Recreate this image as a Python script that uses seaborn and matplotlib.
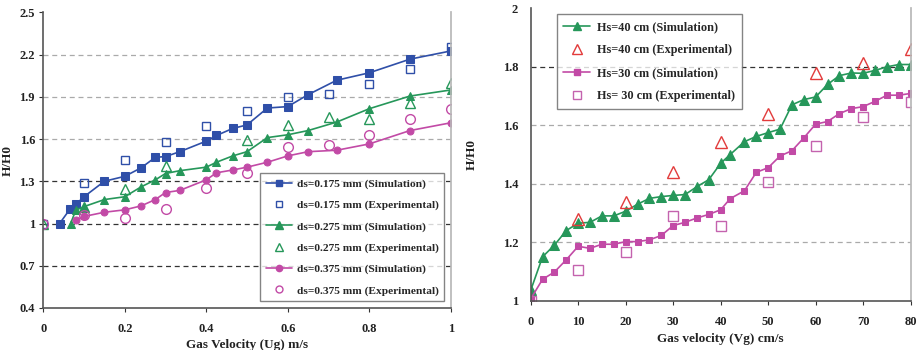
import matplotlib
matplotlib.use("Agg")
import matplotlib.pyplot as plt
import seaborn as sns
import pandas as pd
from matplotlib.lines import Line2D

# ---------------- Left panel data ----------------
ug_sim_175 = [0.04, 0.065, 0.08, 0.10, 0.15, 0.20, 0.24, 0.275, 0.30, 0.335, 0.40, 0.425, 0.465, 0.50, 0.55, 0.60, 0.65, 0.72, 0.80, 0.90, 1.00]
h_sim_175 = [1.00, 1.10, 1.137, 1.19, 1.30, 1.335, 1.395, 1.47, 1.475, 1.51, 1.585, 1.625, 1.675, 1.70, 1.82, 1.83, 1.915, 2.017, 2.07, 2.167, 2.225]
ug_exp_175 = [0.0, 0.1, 0.2, 0.3, 0.4, 0.5, 0.6, 0.7, 0.8, 0.9, 1.0]
h_exp_175 = [1.00, 1.29, 1.45, 1.58, 1.69, 1.80, 1.90, 1.92, 1.99, 2.10, 2.255]

ug_sim_275 = [0.067, 0.08, 0.10, 0.15, 0.20, 0.24, 0.275, 0.30, 0.335, 0.40, 0.425, 0.465, 0.50, 0.55, 0.60, 0.65, 0.72, 0.80, 0.90, 1.00]
h_sim_275 = [1.00, 1.095, 1.12, 1.17, 1.19, 1.26, 1.31, 1.355, 1.375, 1.40, 1.435, 1.48, 1.51, 1.61, 1.63, 1.66, 1.72, 1.815, 1.905, 1.948]
ug_exp_275 = [0.0, 0.1, 0.2, 0.3, 0.5, 0.6, 0.7, 0.8, 0.9, 1.0]
h_exp_275 = [1.00, 1.115, 1.245, 1.41, 1.59, 1.70, 1.755, 1.74, 1.855, 2.00]

ug_sim_375 = [0.08, 0.10, 0.15, 0.20, 0.24, 0.275, 0.30, 0.335, 0.40, 0.425, 0.465, 0.50, 0.55, 0.60, 0.65, 0.72, 0.80, 0.90, 1.00]
h_sim_375 = [1.023, 1.05, 1.08, 1.097, 1.125, 1.17, 1.22, 1.235, 1.31, 1.36, 1.38, 1.40, 1.435, 1.48, 1.51, 1.52, 1.565, 1.66, 1.715]
ug_exp_375 = [0.0, 0.1, 0.2, 0.3, 0.4, 0.5, 0.6, 0.7, 0.8, 0.9, 1.0]
h_exp_375 = [1.00, 1.06, 1.04, 1.105, 1.25, 1.36, 1.54, 1.56, 1.63, 1.74, 1.81]

left_labels = ["ds=0.175 mm (Simulation)", "ds=0.175 mm (Experimental)",
               "ds=0.275 mm (Simulation)", "ds=0.275 mm (Experimental)",
               "ds=0.375 mm (Simulation)", "ds=0.375 mm (Experimental)"]
left_yticks = [0.4, 0.7, 1.0, 1.3, 1.6, 1.9, 2.2, 2.5]
left_ytick_labels = ["0.4", "0.7", "1", "1.3", "1.6", "1.9", "2.2", "2.5"]
left_xticks = [0, 0.2, 0.4, 0.6, 0.8, 1.0]
left_xtick_labels = ["0", "0.2", "0.4", "0.6", "0.8", "1"]

# ---------------- Right panel data ----------------
vg_sim = [0, 2.5, 5, 7.5, 10, 12.5, 15, 17.5, 20, 22.5, 25, 27.5, 30, 32.5, 35, 37.5, 40, 42, 45, 47.5, 50, 52.5, 55, 57.5, 60, 62.5, 65, 67.5, 70, 72.5, 75, 77.5, 80]
h_sim_40 = [1.035, 1.15, 1.19, 1.24, 1.265, 1.268, 1.29, 1.29, 1.306, 1.33, 1.35, 1.356, 1.36, 1.363, 1.39, 1.414, 1.47, 1.50, 1.544, 1.562, 1.575, 1.587, 1.67, 1.688, 1.697, 1.74, 1.77, 1.779, 1.778, 1.788, 1.80, 1.808, 1.808]
h_sim_30 = [1.006, 1.073, 1.098, 1.14, 1.186, 1.179, 1.193, 1.193, 1.202, 1.202, 1.208, 1.223, 1.257, 1.268, 1.283, 1.295, 1.311, 1.349, 1.376, 1.439, 1.455, 1.495, 1.513, 1.557, 1.604, 1.613, 1.64, 1.657, 1.664, 1.682, 1.703, 1.703, 1.709]
vg_exp = [0, 10, 20, 30, 40, 50, 60, 70, 80]
h_exp_40 = [1.00, 1.28, 1.339, 1.44, 1.543, 1.64, 1.778, 1.814, 1.861]
h_exp_30 = [1.00, 1.104, 1.168, 1.289, 1.255, 1.405, 1.529, 1.628, 1.680]

right_labels = ["Hs=40 cm (Simulation)", "Hs=40 cm (Experimental)",
                "Hs=30 cm (Simulation)", "Hs= 30 cm (Experimental)"]
right_yticks = [1.0, 1.2, 1.4, 1.6, 1.8, 2.0]
right_ytick_labels = ["1", "1.2", "1.4", "1.6", "1.8", "2"]
right_xticks = [0, 10, 20, 30, 40, 50, 60, 70, 80]

# ---------------- Styling ----------------
sns.set_theme(style="white")
plt.rcParams['font.family'] = ['Liberation Serif', 'DejaVu Serif']
plt.rcParams['font.weight'] = 'bold'

BLUE = "#2F4FA8"
GREEN = "#26975A"
PINK = "#C24AA6"
RED = "#E23B3B"
PINK2 = "#C463AE"

fig = plt.figure(figsize=(9.21, 3.5), dpi=100)
ax1 = fig.add_axes([0.047, 0.12, 0.4424, 0.845])
ax2 = fig.add_axes([0.5762, 0.141, 0.4126, 0.835])

def sim(ax, x, y, color, marker, ms):
    sns.lineplot(x=x, y=y, ax=ax, color=color, marker=marker, markersize=ms,
                 markeredgecolor=color, linewidth=1.2, sort=False, estimator=None)

def exp(ax, x, y, color, marker, ms):
    ax.plot(x, y, linestyle="none", marker=marker, markersize=ms,
            markerfacecolor="none", markeredgecolor=color, markeredgewidth=1.0)

# Left panel
sim(ax1, ug_sim_175, h_sim_175, BLUE, "s", 5.5)
exp(ax1, ug_exp_175, h_exp_175, BLUE, "s", 6)
sim(ax1, ug_sim_275, h_sim_275, GREEN, "^", 6)
exp(ax1, ug_exp_275, h_exp_275, GREEN, "^", 6.5)
sim(ax1, ug_sim_375, h_sim_375, PINK, "o", 5)
exp(ax1, ug_exp_375, h_exp_375, PINK, "o", 7)

# Right panel
sim(ax2, vg_sim, h_sim_40, GREEN, "^", 6.5)
exp(ax2, vg_exp, h_exp_40, RED, "^", 8.5)
sim(ax2, vg_sim, h_sim_30, PINK, "s", 4.5)
exp(ax2, vg_exp, h_exp_30, PINK2, "s", 6.5)

tick_fs = 9
for ax in (ax1, ax2):
    ax.spines['top'].set_visible(False)
    ax.spines['right'].set_color("#B8B8B8")
    ax.spines['left'].set_color("#555555")
    ax.spines['bottom'].set_color("#555555")
    ax.spines['left'].set_linewidth(1.2)
    ax.spines['bottom'].set_linewidth(1.2)
    ax.tick_params(axis='both', which='major', direction='out', length=3, width=0.8,
                   labelsize=tick_fs, colors="#333333", bottom=True, left=True, pad=3)

ax1.set_xlim(0, 1)
ax1.set_ylim(0.4, 2.5)
ax1.set_xticks(left_xticks)
ax1.set_xticklabels(left_xtick_labels, fontweight='bold', fontsize=tick_fs, color="#222222")
ax1.set_yticks(left_yticks)
ax1.set_yticklabels(left_ytick_labels, fontweight='bold', fontsize=tick_fs, color="#222222")
ax1.tick_params(axis='x', pad=8)
for v in [0.7, 1.0, 1.3]:
    ax1.axhline(v, color="#333333", linestyle=(0, (4, 3)), linewidth=0.9, zorder=0)
for v in [1.6, 1.9, 2.2]:
    ax1.axhline(v, color="#AAAAAA", linestyle=(0, (4, 3)), linewidth=0.9, zorder=0)
ax1.set_xlabel("Gas Velocity (Ug) m/s", fontsize=9.5, fontweight='bold', color="#222222", labelpad=3)
ax1.set_ylabel("H/H0", fontsize=9.5, fontweight='bold', color="#222222", labelpad=4)

ax2.set_xlim(0, 80)
ax2.set_ylim(1.0, 2.0)
ax2.set_xticks(right_xticks)
ax2.set_xticklabels([str(v) for v in right_xticks], fontweight='bold', fontsize=tick_fs, color="#222222")
ax2.set_yticks(right_yticks)
ax2.set_yticklabels(right_ytick_labels, fontweight='bold', fontsize=tick_fs, color="#222222")
ax2.tick_params(axis='x', pad=8)
ax2.tick_params(axis='y', length=0, pad=9)
ax2.axhline(1.8, color="#333333", linestyle=(0, (4, 3)), linewidth=0.9, zorder=0)
for v in [1.2, 1.4, 1.6]:
    ax2.axhline(v, color="#AAAAAA", linestyle=(0, (4, 3)), linewidth=0.9, zorder=0)
ax2.set_xlabel("Gas velocity (Vg) cm/s", fontsize=9.5, fontweight='bold', color="#222222", labelpad=4)
ax2.set_ylabel("H/H0", fontsize=9.5, fontweight='bold', color="#222222", labelpad=18)

# Legends
def lh(color, marker, ms, line, face):
    return Line2D([], [], color=color, marker=marker, markersize=ms,
                  linestyle='-' if line else 'none', linewidth=1.2,
                  markerfacecolor=color if face else 'none', markeredgecolor=color)

h_left = [lh(BLUE, "s", 5, True, True), lh(BLUE, "s", 5, False, False),
          lh(GREEN, "^", 5.5, True, True), lh(GREEN, "^", 5.5, False, False),
          lh(PINK, "o", 4.5, True, True), lh(PINK, "o", 5, False, False)]
leg1 = ax1.legend(h_left, left_labels, loc='upper left', bbox_to_anchor=(0.533, 0.455),
                  borderaxespad=0, frameon=True, fancybox=False, edgecolor="#666666",
                  prop={'family': 'Liberation Serif', 'weight': 'bold', 'size': 8.2},
                  labelspacing=0.98, handlelength=2.3, handletextpad=0.5, borderpad=0.45)
leg1.get_frame().set_linewidth(1.0)

h_right = [lh(GREEN, "^", 6, True, True), lh(RED, "^", 7.5, False, False),
           lh(PINK, "s", 4.5, True, True), lh(PINK2, "s", 5.5, False, False)]
leg2 = ax2.legend(h_right, right_labels, loc='upper left', bbox_to_anchor=(0.068, 0.98),
                  borderaxespad=0, frameon=True, fancybox=False, edgecolor="#666666",
                  prop={'family': 'Liberation Serif', 'weight': 'bold', 'size': 8.8},
                  labelspacing=0.9, handlelength=2.2, handletextpad=0.6, borderpad=0.55)
leg2.get_frame().set_linewidth(1.0)

fig.savefig("out.png", dpi=100)
